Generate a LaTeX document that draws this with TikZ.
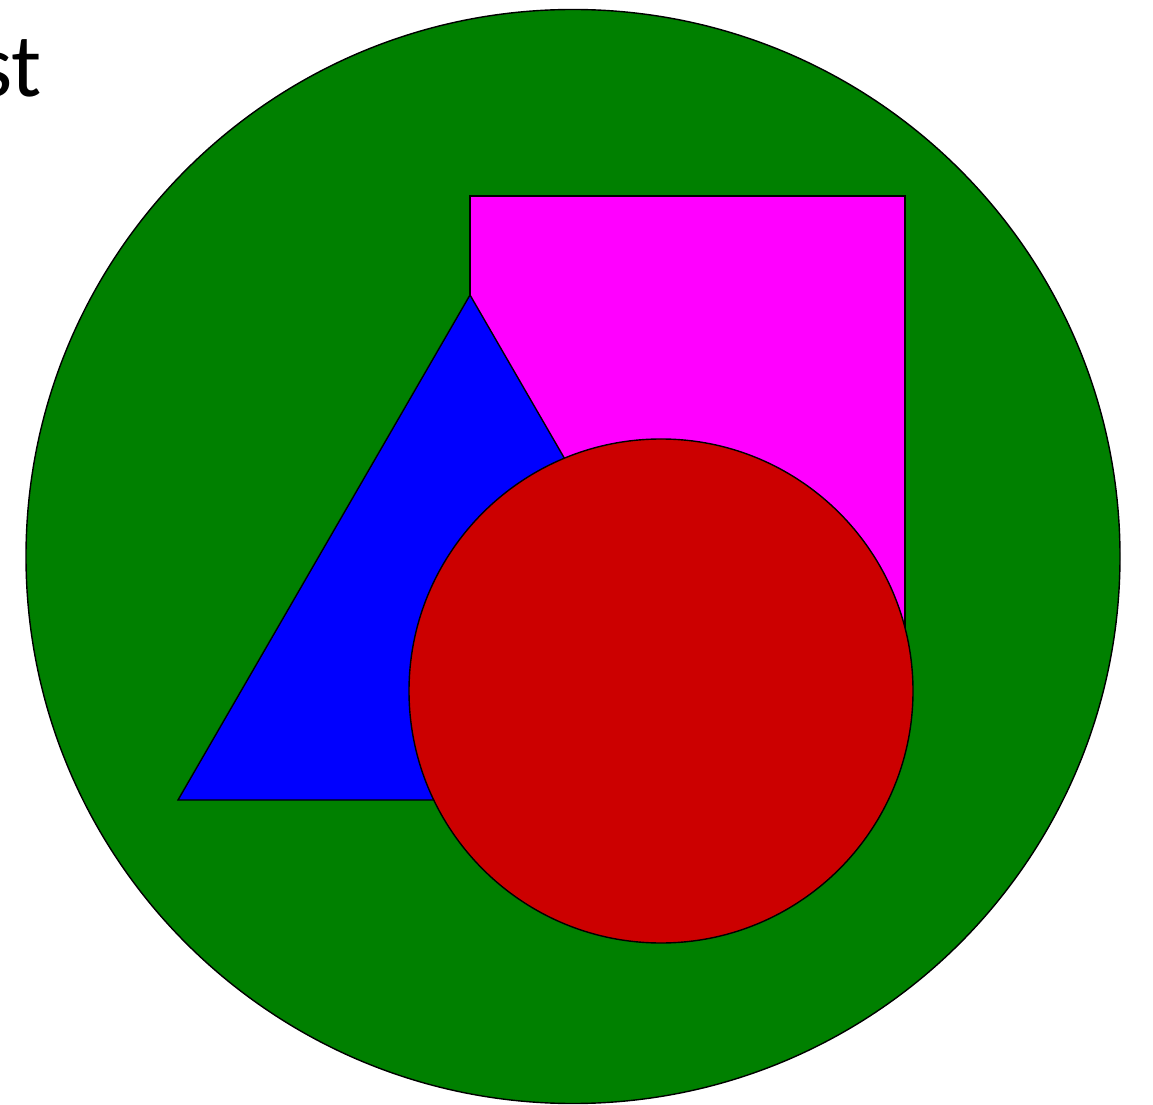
\documentclass[tikz,border=0pt]{standalone}
\usepackage{fontspec}
\setmainfont{Carlito}
\definecolor{bggreen}{RGB}{0,128,0}
\definecolor{mag}{RGB}{255,0,255}
\definecolor{pblue}{RGB}{0,0,255}
\definecolor{pred}{RGB}{204,0,0}
\begin{document}
\begin{tikzpicture}[x=1pt,y=1pt,
  figshape/.style={draw=black,line width=1.4pt}]
\useasboundingbox (0,0) rectangle (1153,1104);
\clip (0,0) rectangle (1153,1104);
\node[anchor=base east,inner sep=0pt,font=\fontsize{90}{100}\selectfont] (title) at (42,1007) {Test};
\path[figshape,fill=bggreen] (573,547.5) circle[radius=547];
\path[figshape,fill=mag] (470,908) rectangle (905,420);
\path[figshape,fill=pblue] (470,809) -- (178,304) -- (762,304) -- cycle;
\path[figshape,fill=pred] (661,413) circle[radius=252];
\end{tikzpicture}
\end{document}
